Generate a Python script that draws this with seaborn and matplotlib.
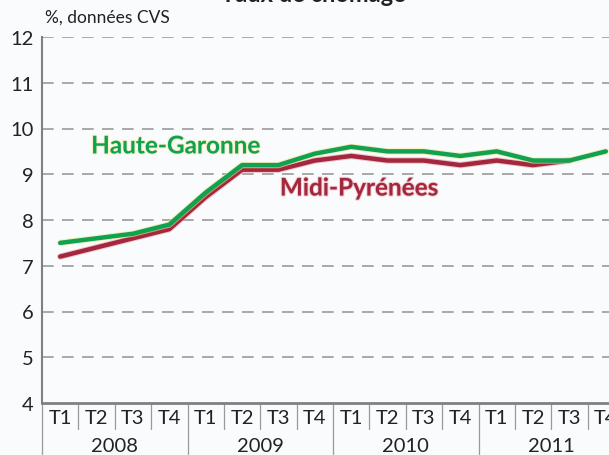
#!/usr/bin/env python3
# Taux de chômage trimestriel, Haute-Garonne vs Midi-Pyrénées (2008-2011)

import numpy as np
import pandas as pd
import seaborn as sns
import matplotlib.pyplot as plt
import matplotlib.transforms as mtransforms
import matplotlib.patheffects as pe

# --- Data ---
quarters = ['T1', 'T2', 'T3', 'T4'] * 4
years = ['2008', '2009', '2010', '2011']
haute_garonne = [7.5, 7.6, 7.7, 7.9, 8.6, 9.2, 9.2, 9.45,
                 9.6, 9.5, 9.5, 9.4, 9.5, 9.3, 9.3, 9.5]
midi_pyrenees = [7.2, 7.4, 7.6, 7.8, 8.5, 9.1, 9.1, 9.3,
                 9.4, 9.3, 9.3, 9.2, 9.3, 9.2, 9.3, np.nan]
series_names = ['Haute-Garonne', 'Midi-Pyrénées']
series_colors = ['#10a152', '#a3283e']

df = pd.DataFrame({
    'idx': list(range(16)) * 2,
    'value': haute_garonne + midi_pyrenees,
    'serie': [series_names[0]] * 16 + [series_names[1]] * 16,
})

sns.set_style("white")
plt.rcParams['font.family'] = ['Lato', 'DejaVu Sans']
bg = '#fafbfd'

fig = plt.figure(figsize=(6.09, 4.56), dpi=100, facecolor=bg)
# axes right edge runs off the figure, as in the cropped original
ax = fig.add_axes([42 / 609, 1 - 404 / 456, 582 / 609, 366 / 456])
ax.set_facecolor(bg)

# draw Midi-Pyrénées first so Haute-Garonne lies on top
sns.lineplot(data=df, x='idx', y='value', hue='serie',
             hue_order=series_names[::-1], palette=series_colors[::-1],
             linewidth=3.2, legend=False, ax=ax, zorder=3)
for line, halo in zip(ax.get_lines(), ['#e8a0a8', '#f2e58a']):
    line.set_path_effects([pe.Stroke(linewidth=4.6, foreground=halo, alpha=0.6),
                           pe.Normal()])

ax.set_xlim(-0.5, 15.5)
ax.set_ylim(4, 12)
ax.set_xlabel('')
ax.set_ylabel('')

# horizontal dashed grid
for yv in range(5, 13):
    ax.axhline(yv, color='#9a9a9a', linewidth=1.2, linestyle=(0, (7, 5)), zorder=1)

# spines
for side in ['top', 'right']:
    ax.spines[side].set_visible(False)
ax.spines['left'].set_color('#808080')
ax.spines['left'].set_linewidth(1.5)
ax.spines['bottom'].set_color('#808080')
ax.spines['bottom'].set_linewidth(2)

# y ticks
ax.set_yticks(range(4, 13))
ax.tick_params(axis='y', direction='in', length=4, width=1.2, color='#808080',
               labelsize=14.5, pad=6, labelcolor='#222222')

# x ticks: quarter labels
ax.set_xticks(range(16))
ax.set_xticklabels(quarters)
ax.tick_params(axis='x', length=0, labelsize=14.5, pad=4, labelcolor='#222222')

# quarter / year separators below the axis
trans = mtransforms.blended_transform_factory(ax.transData, ax.transAxes)
for k in range(16):
    pos = k - 0.5
    low = -0.14 if k % 4 == 0 else -0.07
    ax.plot([pos, pos], [0, low], transform=trans, color='#9a9a9a',
            linewidth=0.9, clip_on=False)

for i, yr in enumerate(years):
    ax.text(4 * i + 1.5, -0.115, yr, transform=trans, ha='center', va='center',
            fontsize=14.5, color='#222222')

# series labels
ax.text(0.85, 9.62, 'Haute-Garonne', color=series_colors[0], fontsize=17.5,
        fontweight='bold', ha='left', va='center',
        path_effects=[pe.withStroke(linewidth=1.5, foreground='#f2e58a', alpha=0.5)])
ax.text(6.04, 8.7, 'Midi-Pyrénées', color=series_colors[1], fontsize=17.5,
        fontweight='bold', ha='left', va='center',
        path_effects=[pe.withStroke(linewidth=1.5, foreground='#e8a0a8', alpha=0.5)])

# unit note and the cropped title
fig.text(45 / 609, 1 - 18 / 456, '%, données CVS', fontsize=12.5, color='#222222',
         ha='left', va='center')
fig.text(313 / 609, 1 - 1.5 / 456, 'Taux de chômage', fontsize=17, fontweight='bold',
         color='#222222', ha='center', va='baseline')

fig.savefig('out.png', dpi=100, facecolor=bg)
plt.close(fig)
